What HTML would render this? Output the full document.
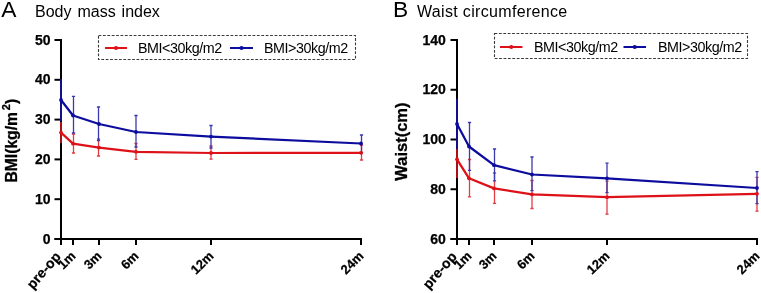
<!DOCTYPE html>
<html><head><meta charset="utf-8"><style>
html,body{margin:0;padding:0;background:#fff;}
svg{display:block;}
text{font-family:"Liberation Sans",sans-serif;}
svg{will-change:transform;}
.yt{font-size:14px;font-weight:bold;text-anchor:end;fill:#000;stroke:#000;stroke-width:0.25px;}
.xt{font-size:13px;font-weight:bold;text-anchor:end;fill:#000;stroke:#000;stroke-width:0.25px;}
.ttl{font-size:16px;fill:#000;word-spacing:1.5px;}
.big{font-size:22.8px;fill:#000;}
.lg{font-size:14.3px;fill:#000;letter-spacing:-0.45px;}
.yax{font-size:16px;font-weight:bold;fill:#000;text-anchor:middle;stroke:#000;stroke-width:0.3px;}
</style></head><body>
<svg width="761" height="293" viewBox="0 0 761 293">
<rect width="761" height="293" fill="#fff"/>

<path d="M61 39 V240 M54.5 239 H362" stroke="#000" stroke-width="2" fill="none"/>
<path d="M54.5 40.0 H61" stroke="#000" stroke-width="2"/>
<text x="50.6" y="44.6" class="yt">50</text>
<path d="M54.5 79.8 H61" stroke="#000" stroke-width="2"/>
<text x="50.6" y="84.39999999999999" class="yt">40</text>
<path d="M54.5 119.6 H61" stroke="#000" stroke-width="2"/>
<text x="50.6" y="124.19999999999999" class="yt">30</text>
<path d="M54.5 159.4 H61" stroke="#000" stroke-width="2"/>
<text x="50.6" y="164.0" class="yt">20</text>
<path d="M54.5 199.2 H61" stroke="#000" stroke-width="2"/>
<text x="50.6" y="203.79999999999998" class="yt">10</text>
<path d="M54.5 239.0 H61" stroke="#000" stroke-width="2"/>
<text x="50.6" y="243.6" class="yt">0</text>
<path d="M61 239 V245" stroke="#000" stroke-width="2"/>
<path d="M73 239 V245" stroke="#000" stroke-width="2"/>
<path d="M99 239 V245" stroke="#000" stroke-width="2"/>
<path d="M136 239 V245" stroke="#000" stroke-width="2"/>
<path d="M211 239 V245" stroke="#000" stroke-width="2"/>
<path d="M361 239 V245" stroke="#000" stroke-width="2"/>
<path d="M61 122 V143" stroke="#a81016" stroke-width="2"/>
<path d="M73.5 134 V153" stroke="#e23c44" stroke-width="1.3"/>
<path d="M71.9 134 H75.1 M71.9 153 H75.1" stroke="#e23c44" stroke-width="1.3"/>
<path d="M98.5 139 V156" stroke="#e23c44" stroke-width="1.3"/>
<path d="M96.9 139 H100.1 M96.9 156 H100.1" stroke="#e23c44" stroke-width="1.3"/>
<path d="M136 143.5 V159.3" stroke="#e23c44" stroke-width="1.3"/>
<path d="M134.4 143.5 H137.6 M134.4 159.3 H137.6" stroke="#e23c44" stroke-width="1.3"/>
<path d="M211 146 V159.2" stroke="#e23c44" stroke-width="1.3"/>
<path d="M209.4 146 H212.6 M209.4 159.2 H212.6" stroke="#e23c44" stroke-width="1.3"/>
<path d="M361.5 145 V160" stroke="#e23c44" stroke-width="1.3"/>
<path d="M359.9 145 H363.1 M359.9 160 H363.1" stroke="#e23c44" stroke-width="1.3"/>
<path d="M61 79 V121" stroke="#10108c" stroke-width="2"/>
<path d="M73.5 96.3 V133" stroke="#3a3aae" stroke-width="1.3"/>
<path d="M71.9 96.3 H75.1 M71.9 133 H75.1" stroke="#3a3aae" stroke-width="1.3"/>
<path d="M98.5 107 V140.5" stroke="#3a3aae" stroke-width="1.3"/>
<path d="M96.9 107 H100.1 M96.9 140.5 H100.1" stroke="#3a3aae" stroke-width="1.3"/>
<path d="M136 115.5 V147" stroke="#3a3aae" stroke-width="1.3"/>
<path d="M134.4 115.5 H137.6 M134.4 147 H137.6" stroke="#3a3aae" stroke-width="1.3"/>
<path d="M211 125.5 V148" stroke="#3a3aae" stroke-width="1.3"/>
<path d="M209.4 125.5 H212.6 M209.4 148 H212.6" stroke="#3a3aae" stroke-width="1.3"/>
<path d="M361.5 135 V153" stroke="#3a3aae" stroke-width="1.3"/>
<path d="M359.9 135 H363.1 M359.9 153 H363.1" stroke="#3a3aae" stroke-width="1.3"/>
<path d="M61 100 L73 115.5 L99 124 L136 132 L211 136.6 L361 143.5" stroke="#0c0c9e" stroke-width="2.25" fill="none" stroke-linejoin="round"/>
<circle cx="61" cy="100" r="1.9" fill="#0c0c9e"/>
<circle cx="73" cy="115.5" r="1.9" fill="#0c0c9e"/>
<circle cx="99" cy="124" r="1.9" fill="#0c0c9e"/>
<circle cx="136" cy="132" r="1.9" fill="#0c0c9e"/>
<circle cx="211" cy="136.6" r="1.9" fill="#0c0c9e"/>
<circle cx="361" cy="143.5" r="1.9" fill="#0c0c9e"/>
<path d="M61 132.6 L73 143.7 L99 147.6 L136 151.8 L211 153 L361 152.8" stroke="#de1119" stroke-width="2.25" fill="none" stroke-linejoin="round"/>
<circle cx="61" cy="132.6" r="1.9" fill="#de1119"/>
<circle cx="73" cy="143.7" r="1.9" fill="#de1119"/>
<circle cx="99" cy="147.6" r="1.9" fill="#de1119"/>
<circle cx="136" cy="151.8" r="1.9" fill="#de1119"/>
<circle cx="211" cy="153" r="1.9" fill="#de1119"/>
<circle cx="361" cy="152.8" r="1.9" fill="#de1119"/>
<text class="xt" style="font-size:14px" transform="translate(61.5 257) rotate(-49)">pre-op</text>
<text class="xt" transform="translate(76.5 256.7) rotate(-45)">1m</text>
<text class="xt" transform="translate(102.5 256.7) rotate(-45)">3m</text>
<text class="xt" transform="translate(139.5 256.7) rotate(-45)">6m</text>
<text class="xt" transform="translate(214.5 256.7) rotate(-45)">12m</text>
<text class="xt" transform="translate(364.5 256.7) rotate(-45)">24m</text>
<rect x="98.5" y="35.5" width="257" height="24" fill="none" stroke="#3a3a3a" stroke-width="1.1" stroke-dasharray="2.8 1.6"/>
<path d="M105 48 H127" stroke="#de1119" stroke-width="2"/>
<circle cx="116.0" cy="48" r="2.1" fill="#de1119"/>
<path d="M230 48 H253" stroke="#0c0c9e" stroke-width="2"/>
<circle cx="241.5" cy="48" r="2.1" fill="#0c0c9e"/>
<text class="lg" x="138" y="52.8">BMI&lt;30kg/m2</text>
<text class="lg" x="264" y="52.8">BMI&gt;30kg/m2</text>
<text class="big" x="1.3" y="17.3">A</text>
<text class="ttl" x="35" y="17.2">Body mass index</text>
<text class="yax" style="text-anchor:start;font-size:15.7px" transform="translate(16.9 182.6) rotate(-90)">BMI(kg/m<tspan font-size="11" dx="1.8" dy="-6.5">2</tspan><tspan dy="6.5">)</tspan></text>
<path d="M457 39 V240 M450.5 239 H758" stroke="#000" stroke-width="2" fill="none"/>
<path d="M450.5 40.0 H457" stroke="#000" stroke-width="2"/>
<text x="445.8" y="44.6" class="yt">140</text>
<path d="M450.5 89.75 H457" stroke="#000" stroke-width="2"/>
<text x="445.8" y="94.35" class="yt">120</text>
<path d="M450.5 139.5 H457" stroke="#000" stroke-width="2"/>
<text x="445.8" y="144.1" class="yt">100</text>
<path d="M450.5 189.25 H457" stroke="#000" stroke-width="2"/>
<text x="445.8" y="193.85" class="yt">80</text>
<path d="M450.5 239.0 H457" stroke="#000" stroke-width="2"/>
<text x="445.8" y="243.6" class="yt">60</text>
<path d="M457 239 V245" stroke="#000" stroke-width="2"/>
<path d="M469 239 V245" stroke="#000" stroke-width="2"/>
<path d="M494 239 V245" stroke="#000" stroke-width="2"/>
<path d="M532 239 V245" stroke="#000" stroke-width="2"/>
<path d="M607 239 V245" stroke="#000" stroke-width="2"/>
<path d="M757 239 V245" stroke="#000" stroke-width="2"/>
<path d="M457 146 V178" stroke="#a81016" stroke-width="2"/>
<path d="M469.5 159.5 V196.9" stroke="#e23c44" stroke-width="1.3"/>
<path d="M467.9 159.5 H471.1 M467.9 196.9 H471.1" stroke="#e23c44" stroke-width="1.3"/>
<path d="M494.5 173 V203.4" stroke="#e23c44" stroke-width="1.3"/>
<path d="M492.9 173 H496.1 M492.9 203.4 H496.1" stroke="#e23c44" stroke-width="1.3"/>
<path d="M532 180.5 V208.5" stroke="#e23c44" stroke-width="1.3"/>
<path d="M530.4 180.5 H533.6 M530.4 208.5 H533.6" stroke="#e23c44" stroke-width="1.3"/>
<path d="M607 181.2 V214.2" stroke="#e23c44" stroke-width="1.3"/>
<path d="M605.4 181.2 H608.6 M605.4 214.2 H608.6" stroke="#e23c44" stroke-width="1.3"/>
<path d="M757 177.4 V211.2" stroke="#e23c44" stroke-width="1.3"/>
<path d="M755.4 177.4 H758.6 M755.4 211.2 H758.6" stroke="#e23c44" stroke-width="1.3"/>
<path d="M457 98.7 V149" stroke="#10108c" stroke-width="2"/>
<path d="M469.5 122.5 V170.3" stroke="#3a3aae" stroke-width="1.3"/>
<path d="M467.9 122.5 H471.1 M467.9 170.3 H471.1" stroke="#3a3aae" stroke-width="1.3"/>
<path d="M494.5 149 V180.8" stroke="#3a3aae" stroke-width="1.3"/>
<path d="M492.9 149 H496.1 M492.9 180.8 H496.1" stroke="#3a3aae" stroke-width="1.3"/>
<path d="M532 157 V190.7" stroke="#3a3aae" stroke-width="1.3"/>
<path d="M530.4 157 H533.6 M530.4 190.7 H533.6" stroke="#3a3aae" stroke-width="1.3"/>
<path d="M607 163.2 V192.7" stroke="#3a3aae" stroke-width="1.3"/>
<path d="M605.4 163.2 H608.6 M605.4 192.7 H608.6" stroke="#3a3aae" stroke-width="1.3"/>
<path d="M757 171.7 V203.6" stroke="#3a3aae" stroke-width="1.3"/>
<path d="M755.4 171.7 H758.6 M755.4 203.6 H758.6" stroke="#3a3aae" stroke-width="1.3"/>
<path d="M457 124 L469 146.5 L494 165.2 L532 174.5 L607 178.3 L757 188" stroke="#0c0c9e" stroke-width="2.25" fill="none" stroke-linejoin="round"/>
<circle cx="457" cy="124" r="1.9" fill="#0c0c9e"/>
<circle cx="469" cy="146.5" r="1.9" fill="#0c0c9e"/>
<circle cx="494" cy="165.2" r="1.9" fill="#0c0c9e"/>
<circle cx="532" cy="174.5" r="1.9" fill="#0c0c9e"/>
<circle cx="607" cy="178.3" r="1.9" fill="#0c0c9e"/>
<circle cx="757" cy="188" r="1.9" fill="#0c0c9e"/>
<path d="M457 159.3 L469 178.3 L494 188.4 L532 194.4 L607 197.2 L757 193.8" stroke="#de1119" stroke-width="2.25" fill="none" stroke-linejoin="round"/>
<circle cx="457" cy="159.3" r="1.9" fill="#de1119"/>
<circle cx="469" cy="178.3" r="1.9" fill="#de1119"/>
<circle cx="494" cy="188.4" r="1.9" fill="#de1119"/>
<circle cx="532" cy="194.4" r="1.9" fill="#de1119"/>
<circle cx="607" cy="197.2" r="1.9" fill="#de1119"/>
<circle cx="757" cy="193.8" r="1.9" fill="#de1119"/>
<text class="xt" style="font-size:14px" transform="translate(457.5 257) rotate(-49)">pre-op</text>
<text class="xt" transform="translate(472.5 256.7) rotate(-45)">1m</text>
<text class="xt" transform="translate(497.5 256.7) rotate(-45)">3m</text>
<text class="xt" transform="translate(535.5 256.7) rotate(-45)">6m</text>
<text class="xt" transform="translate(610.5 256.7) rotate(-45)">12m</text>
<text class="xt" transform="translate(760.5 256.7) rotate(-45)">24m</text>
<rect x="494.5" y="33.5" width="253" height="25" fill="none" stroke="#3a3a3a" stroke-width="1.1" stroke-dasharray="2.8 1.6"/>
<path d="M500 47 H522.5" stroke="#de1119" stroke-width="2"/>
<circle cx="511.25" cy="47" r="2.1" fill="#de1119"/>
<path d="M623.5 47 H646" stroke="#0c0c9e" stroke-width="2"/>
<circle cx="634.75" cy="47" r="2.1" fill="#0c0c9e"/>
<text class="lg" x="534" y="51.8">BMI&lt;30kg/m2</text>
<text class="lg" x="658" y="51.8">BMI&gt;30kg/m2</text>
<text class="big" x="393" y="17">B</text>
<text class="ttl" style="word-spacing:0;letter-spacing:0.33px" x="417" y="16.8">Waist circumference</text>
<text class="yax" style="font-size:16.5px" transform="translate(406.8 141.6) rotate(-90)">Waist(cm)</text>
</svg></body></html>
